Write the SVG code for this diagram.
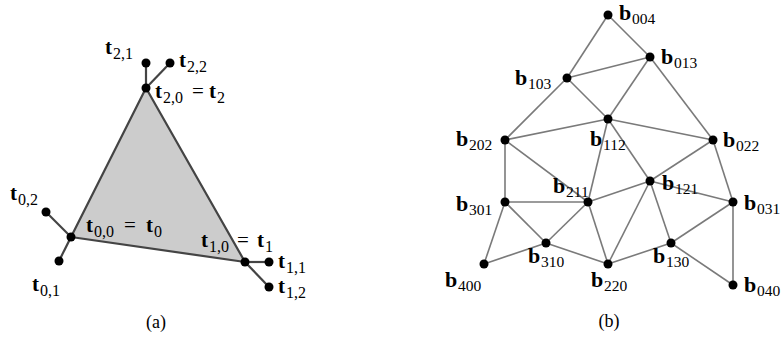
<svg xmlns="http://www.w3.org/2000/svg" width="781" height="345" viewBox="0 0 781 345">
<style>
.tri{fill:#cccccc;stroke:#444;stroke-width:2.2;stroke-linejoin:round}
.sp{stroke:#444;stroke-width:2.2;fill:none}
.e{stroke:#7a7a7a;stroke-width:1.6;fill:none}
.d{fill:#000}
text{font-family:"Liberation Serif","DejaVu Serif",serif;fill:#000}
.tm{font-size:21px;font-weight:bold}
.ts{font-size:16px}
.te{font-size:21px}
.bm{font-size:22px;font-weight:bold}
.bs{font-size:15.5px}
.cap{font-size:18px;text-anchor:middle}
</style>
<g id="connectors">
<polygon class="tri" points="71,237 245,262 146,88"/>
<line class="sp" x1="146" y1="88" x2="146" y2="63"/>
<line class="sp" x1="146" y1="88" x2="170" y2="63"/>
<line class="sp" x1="71" y1="237" x2="46" y2="212"/>
<line class="sp" x1="71" y1="237" x2="59" y2="261"/>
<line class="sp" x1="245" y1="262" x2="269" y2="262"/>
<line class="sp" x1="245" y1="262" x2="269" y2="287"/>
<g class="e">
<line x1="608" y1="15" x2="567" y2="78"/>
<line x1="608" y1="15" x2="650" y2="57"/>
<line x1="567" y1="78" x2="650" y2="57"/>
<line x1="567" y1="78" x2="505" y2="140"/>
<line x1="567" y1="78" x2="608" y2="119"/>
<line x1="650" y1="57" x2="608" y2="119"/>
<line x1="650" y1="57" x2="713" y2="140"/>
<line x1="505" y1="140" x2="608" y2="119"/>
<line x1="608" y1="119" x2="713" y2="140"/>
<line x1="505" y1="140" x2="505" y2="202"/>
<line x1="505" y1="140" x2="588" y2="202"/>
<line x1="608" y1="119" x2="588" y2="202"/>
<line x1="608" y1="119" x2="650" y2="181"/>
<line x1="713" y1="140" x2="650" y2="181"/>
<line x1="713" y1="140" x2="733" y2="202"/>
<line x1="650" y1="181" x2="733" y2="202"/>
<line x1="650" y1="181" x2="588" y2="202"/>
<line x1="650" y1="181" x2="608" y2="264"/>
<line x1="650" y1="181" x2="671" y2="243"/>
<line x1="505" y1="202" x2="588" y2="202"/>
<line x1="505" y1="202" x2="546" y2="243"/>
<line x1="505" y1="202" x2="484" y2="264"/>
<line x1="588" y1="202" x2="546" y2="243"/>
<line x1="588" y1="202" x2="608" y2="264"/>
<line x1="546" y1="243" x2="484" y2="264"/>
<line x1="546" y1="243" x2="608" y2="264"/>
<line x1="608" y1="264" x2="671" y2="243"/>
<line x1="671" y1="243" x2="733" y2="202"/>
<line x1="671" y1="243" x2="733" y2="285"/>
<line x1="733" y1="202" x2="733" y2="285"/>
</g>
</g>
<g id="t20"><circle class="d" cx="146" cy="88" r="4.5"/><text x="155" y="98"><tspan class="tm">t</tspan><tspan class="ts" x="163" y="103">2,0</tspan><tspan class="te" x="192" y="98">=</tspan><tspan class="tm" x="209" y="98">t</tspan><tspan class="ts" x="217" y="103">2</tspan></text></g>
<g id="t21"><circle class="d" cx="146" cy="63" r="4.5"/><text x="105" y="54"><tspan class="tm">t</tspan><tspan class="ts" x="113" y="59">2,1</tspan></text></g>
<g id="t22"><circle class="d" cx="170" cy="63" r="4.5"/><text x="179" y="67"><tspan class="tm">t</tspan><tspan class="ts" x="187" y="72">2,2</tspan></text></g>
<g id="t00"><circle class="d" cx="71" cy="237" r="4.5"/><text x="86" y="232"><tspan class="tm">t</tspan><tspan class="ts" x="94" y="237">0,0</tspan><tspan class="te" x="124" y="232">=</tspan><tspan class="tm" x="146" y="232">t</tspan><tspan class="ts" x="154" y="237">0</tspan></text></g>
<g id="t02"><circle class="d" cx="46" cy="212" r="4.5"/><text x="10" y="200"><tspan class="tm">t</tspan><tspan class="ts" x="18" y="205">0,2</tspan></text></g>
<g id="t01"><circle class="d" cx="59" cy="261" r="4.5"/><text x="32" y="291"><tspan class="tm">t</tspan><tspan class="ts" x="40" y="296">0,1</tspan></text></g>
<g id="t10"><circle class="d" cx="245" cy="262" r="4.5"/><text x="201" y="247"><tspan class="tm">t</tspan><tspan class="ts" x="209" y="252">1,0</tspan><tspan class="te" x="237" y="247">=</tspan><tspan class="tm" x="257" y="247">t</tspan><tspan class="ts" x="265" y="252">1</tspan></text></g>
<g id="t11"><circle class="d" cx="269" cy="262" r="4.5"/><text x="278" y="268"><tspan class="tm">t</tspan><tspan class="ts" x="286" y="273">1,1</tspan></text></g>
<g id="t12"><circle class="d" cx="269" cy="287" r="4.5"/><text x="278" y="293"><tspan class="tm">t</tspan><tspan class="ts" x="286" y="298">1,2</tspan></text></g>
<g id="b004"><circle class="d" cx="608" cy="15" r="4.5"/><text x="619" y="20"><tspan class="bm">b</tspan><tspan class="bs" x="632" y="24">004</tspan></text></g>
<g id="b013"><circle class="d" cx="650" cy="57" r="4.5"/><text x="661" y="64"><tspan class="bm">b</tspan><tspan class="bs" x="674" y="68">013</tspan></text></g>
<g id="b103"><circle class="d" cx="567" cy="78" r="4.5"/><text x="515" y="85"><tspan class="bm">b</tspan><tspan class="bs" x="528" y="89">103</tspan></text></g>
<g id="b112"><circle class="d" cx="608" cy="119" r="4.5"/><text x="590" y="146"><tspan class="bm">b</tspan><tspan class="bs" x="603" y="150">112</tspan></text></g>
<g id="b202"><circle class="d" cx="505" cy="140" r="4.5"/><text x="456" y="146"><tspan class="bm">b</tspan><tspan class="bs" x="469" y="150">202</tspan></text></g>
<g id="b022"><circle class="d" cx="713" cy="140" r="4.5"/><text x="723" y="147"><tspan class="bm">b</tspan><tspan class="bs" x="736" y="151">022</tspan></text></g>
<g id="b121"><circle class="d" cx="650" cy="181" r="4.5"/><text x="662" y="190"><tspan class="bm">b</tspan><tspan class="bs" x="675" y="194">121</tspan></text></g>
<g id="b211"><circle class="d" cx="588" cy="202" r="4.5"/><text x="553" y="193"><tspan class="bm">b</tspan><tspan class="bs" x="566" y="197">211</tspan></text></g>
<g id="b301"><circle class="d" cx="505" cy="202" r="4.5"/><text x="456" y="211"><tspan class="bm">b</tspan><tspan class="bs" x="469" y="215">301</tspan></text></g>
<g id="b031"><circle class="d" cx="733" cy="202" r="4.5"/><text x="744" y="210"><tspan class="bm">b</tspan><tspan class="bs" x="757" y="214">031</tspan></text></g>
<g id="b310"><circle class="d" cx="546" cy="243" r="4.5"/><text x="528" y="263"><tspan class="bm">b</tspan><tspan class="bs" x="541" y="267">310</tspan></text></g>
<g id="b130"><circle class="d" cx="671" cy="243" r="4.5"/><text x="653" y="263"><tspan class="bm">b</tspan><tspan class="bs" x="666" y="267">130</tspan></text></g>
<g id="b400"><circle class="d" cx="484" cy="264" r="4.5"/><text x="445" y="287"><tspan class="bm">b</tspan><tspan class="bs" x="458" y="291">400</tspan></text></g>
<g id="b220"><circle class="d" cx="608" cy="264" r="4.5"/><text x="591" y="287"><tspan class="bm">b</tspan><tspan class="bs" x="604" y="291">220</tspan></text></g>
<g id="b040"><circle class="d" cx="733" cy="285" r="4.5"/><text x="744" y="292"><tspan class="bm">b</tspan><tspan class="bs" x="757" y="296">040</tspan></text></g>
<text class="cap" x="156" y="328">(a)</text>
<text class="cap" x="609" y="327">(b)</text>
</svg>
